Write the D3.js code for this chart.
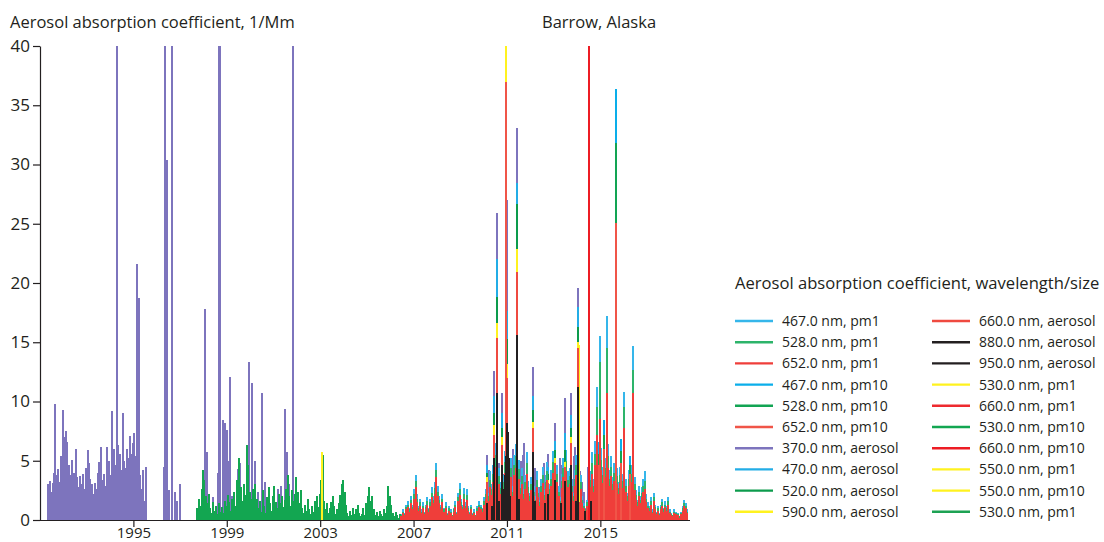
<!DOCTYPE html>
<html>
<head>
<meta charset="utf-8">
<script src="https://cdn.jsdelivr.net/npm/d3@7"></script>
<style>
  body { margin: 0; background: #fff; }
  svg { display: block; }
  text { font-family: "Open Sans", "Noto Sans", sans-serif; fill: #231f20; }
</style>
</head>
<body>
<svg id="chart" width="1104" height="542"></svg>
<script>
// ---- Series (legend order) ----
const seriesNames = [
  "467.0 nm, pm1", "528.0 nm, pm1", "652.0 nm, pm1",
  "467.0 nm, pm10", "528.0 nm, pm10", "652.0 nm, pm10",
  "370.0 nm, aerosol", "470.0 nm, aerosol", "520.0 nm, aerosol", "590.0 nm, aerosol",
  "660.0 nm, aerosol", "880.0 nm, aerosol", "950.0 nm, aerosol",
  "530.0 nm, pm1", "660.0 nm, pm1", "530.0 nm, pm10", "660.0 nm, pm10",
  "550.0 nm, pm1", "550.0 nm, pm10", "530.0 nm, pm1"
];
const seriesColors = [
  "#35b6ea", "#2db46a", "#ef3e3a",
  "#0aaeea", "#12a453", "#f05548",
  "#7d74bd", "#23ade6", "#0c9b4c", "#fff21f",
  "#ef4a40", "#231f20", "#231f20",
  "#fff21f", "#ee2a2f", "#13a651", "#ed1c24",
  "#fff21f", "#fff21f", "#1da253"
];

// ---- Axis ticks ----
const yearTicks = [1995, 1999, 2003, 2007, 2011, 2015];
const valueTicks = [0, 5, 10, 15, 20, 25, 30, 35, 40];

// ---- Regular records: one value every 1/16 year from a start year ----
const STEP = 1 / 16;

// 370 nm aethalometer, early record
const purpleStart = 1991.35;
const purpleRun = [
  3.0, 3.3, 2.4, 3.1, 4.0, 9.8, 3.8, 4.3, 3.2, 5.4,
  9.3, 7.0, 7.5, 6.6, 4.6, 3.8, 5.1, 3.4, 4.0, 6.0,
  3.6, 2.8, 3.7, 3.0, 3.9, 2.6, 4.4, 5.9, 4.8, 3.5,
  3.0, 2.2, 3.1, 2.6, 4.0, 4.9, 6.2, 3.4, 3.9, 2.9,
  6.2, 4.2, 5.0, 3.8, 9.2, 6.0, 4.6, 5.4, 6.3, 5.6,
  4.2, 9.0, 5.0, 4.4, 6.0, 5.2, 7.1, 5.6, 6.5, 7.3,
  5.4, 21.6, 18.7, 3.8, 2.6, 4.2, 1.6, 4.5
];

// 530 nm pm10 record
const greenStart = 1997.73;
const greenRun = [
  1.0, 1.8, 1.2, 2.6, 4.2, 3.4, 2.0, 1.4, 2.2, 1.0,
  0.6, 1.5, 0.8, 1.2, 0.5, 1.4, 0.7, 1.1, 0.6, 1.6,
  1.2, 2.1, 1.5, 0.8, 1.8, 2.4, 1.2, 3.4, 2.2, 5.2,
  2.8, 1.6, 3.0, 2.1, 6.3, 4.6, 2.4, 1.8, 2.6, 1.4,
  3.0, 1.8, 1.0, 1.6, 0.7, 2.5, 1.2, 0.6, 1.9, 2.8,
  1.4, 0.8, 2.0, 2.9, 1.5, 1.0, 2.2, 1.4, 2.0, 1.1,
  1.7, 2.6, 3.8, 2.0, 1.2, 2.5, 1.6, 2.2, 3.6, 2.4,
  1.4, 2.5, 1.0, 0.6, 1.3, 0.8, 1.8, 0.9, 0.5, 1.2,
  0.7, 1.6, 2.0, 1.1, 2.2, 3.4, 2.8, 1.6, 0.9, 1.4,
  0.6, 1.0, 1.5, 2.0, 1.2, 0.5, 0.9, 1.4, 2.1, 3.0,
  3.4, 2.4, 1.3, 0.6, 0.3, 0.8, 0.4, 1.0, 0.5, 0.9,
  1.3, 0.6, 0.3, 0.5, 1.0, 0.4, 1.4, 2.0, 2.8, 1.6,
  2.0, 0.9, 0.4, 0.7, 0.3, 0.8, 0.5, 0.3, 0.9, 0.6,
  1.2, 2.9, 2.0, 1.3, 0.6, 0.3, 0.7, 0.4, 0.2, 0.5,
  0.3
];

// Three-wavelength pm1 record
const lateStart = 2006.47;
const blue467pm1 = [
  0.5, 0.9, 0.6, 1.3, 0.8, 1.6, 1.0, 2.0, 1.3, 2.6,
  3.8, 2.2, 1.2, 1.8, 0.9, 1.5, 0.7, 1.3, 1.9, 1.0,
  1.8, 2.8, 2.0, 3.2, 4.8, 2.9, 2.0, 1.3, 2.2, 1.0,
  0.7, 1.5, 0.6, 1.2, 0.9, 0.4, 1.0, 1.6, 0.7, 2.3,
  3.1, 1.8, 1.3, 2.7, 1.5, 2.6, 1.2, 0.7, 1.3, 0.6,
  0.9, 0.4, 1.2, 1.6, 0.7, 1.3, 1.0, 1.9, 2.6, 3.5,
  2.3, 4.1, 3.0, 4.6, 6.5, 3.6, 2.6, 4.4, 3.2, 4.9,
  3.8, 5.8, 7.5, 4.5, 3.5, 5.2, 2.9, 5.5, 3.9, 6.4,
  4.2, 5.1, 3.2, 4.4, 2.6, 3.8, 5.7, 3.3, 2.3, 3.6,
  5.4, 2.9, 2.0, 4.1, 2.8, 1.7, 3.5, 4.5, 2.5, 3.8,
  4.9, 3.0, 2.2, 4.2, 5.8, 3.6, 2.6, 4.6, 2.9, 1.9,
  3.9, 5.2, 3.2, 5.9, 4.1, 2.8, 4.4, 3.5, 2.3, 4.2,
  5.5, 3.3, 2.2, 3.8, 2.0, 1.4, 1.0, 1.7, 0.9, 2.0,
  4.1, 5.7, 3.5, 6.7, 11.2, 5.5, 15.5, 6.1, 4.5, 7.3,
  5.2, 17.2, 6.4, 4.2, 5.4, 3.6, 4.8, 2.9, 4.4, 3.2,
  4.5, 2.6, 3.9, 10.8, 3.5, 2.3, 4.2, 3.0, 4.6, 14.7,
  3.6, 2.5, 1.7, 2.9, 2.0, 2.8, 3.5, 4.1, 2.2, 1.5,
  1.2, 1.9, 0.9, 2.3, 1.3, 0.7, 1.2, 0.6, 1.3, 1.8,
  1.0, 1.6, 1.2, 1.9, 0.9, 0.6, 0.4, 0.9, 0.7, 0.5,
  0.6, 0.3, 0.7, 1.2, 1.7, 1.4, 0.9
];
const green528pm1 = [
  0.4, 0.7, 0.5, 1.1, 0.6, 1.3, 0.9, 1.7, 1.1, 2.2,
  3.3, 1.8, 1.0, 1.5, 0.7, 1.2, 0.6, 1.1, 1.6, 0.9,
  1.5, 2.3, 1.7, 2.7, 4.2, 2.4, 1.7, 1.1, 1.8, 0.9,
  0.6, 1.2, 0.5, 1.0, 0.7, 0.4, 0.9, 1.3, 0.6, 1.9,
  2.6, 1.5, 1.1, 2.2, 1.2, 2.1, 1.0, 0.6, 1.1, 0.5,
  0.7, 0.4, 1.0, 1.3, 0.6, 1.1, 0.9, 1.6, 2.2, 2.9,
  2.0, 3.4, 2.6, 3.9, 5.5, 3.0, 2.2, 3.7, 2.7, 4.1,
  3.2, 4.9, 6.3, 3.8, 2.9, 4.4, 2.4, 4.6, 3.3, 5.4,
  3.5, 4.3, 2.7, 3.7, 2.2, 3.2, 4.8, 2.8, 2.0, 3.0,
  4.5, 2.4, 1.7, 3.4, 2.3, 1.5, 2.9, 3.8, 2.1, 3.2,
  4.1, 2.6, 1.8, 3.5, 4.9, 3.0, 2.2, 3.9, 2.4, 1.6,
  3.3, 4.4, 2.7, 5.0, 3.4, 2.3, 3.7, 2.9, 2.0, 3.5,
  4.6, 2.8, 1.8, 3.2, 1.7, 1.2, 0.9, 1.5, 0.7, 1.7,
  3.4, 4.8, 2.9, 5.6, 9.5, 4.6, 13.3, 5.1, 3.8, 6.1,
  4.4, 14.5, 5.4, 3.5, 4.5, 3.0, 4.0, 2.4, 3.7, 2.7,
  3.8, 2.2, 3.3, 9.5, 2.9, 2.0, 3.5, 2.6, 3.9, 12.7,
  3.0, 2.1, 1.5, 2.4, 1.7, 2.3, 2.9, 3.3, 1.8, 1.2,
  1.0, 1.6, 0.7, 1.9, 1.1, 0.6, 1.0, 0.5, 1.1, 1.5,
  0.9, 1.3, 1.0, 1.6, 0.7, 0.5, 0.4, 0.7, 0.6, 0.4,
  0.5, 0.3, 0.6, 1.0, 1.4, 1.2, 0.7
];
const red652pm1 = [
  0.3, 0.6, 0.4, 0.9, 0.5, 1.1, 0.7, 1.4, 0.9, 1.8,
  2.8, 1.5, 0.8, 1.2, 0.6, 1.0, 0.5, 0.9, 1.3, 0.7,
  1.2, 1.9, 1.4, 2.2, 3.6, 2.0, 1.4, 0.9, 1.5, 0.7,
  0.5, 1.0, 0.4, 0.8, 0.6, 0.3, 0.7, 1.1, 0.5, 1.6,
  2.1, 1.2, 0.9, 1.8, 1.0, 1.7, 0.8, 0.5, 0.9, 0.4,
  0.6, 0.3, 0.8, 1.1, 0.5, 0.9, 0.7, 1.3, 1.8, 2.4,
  1.6, 2.8, 2.1, 3.2, 4.5, 2.5, 1.8, 3.0, 2.2, 3.4,
  2.6, 4.0, 5.2, 3.1, 2.4, 3.6, 2.0, 3.8, 2.7, 4.4,
  2.9, 3.5, 2.2, 3.0, 1.8, 2.6, 3.9, 2.3, 1.6, 2.5,
  3.7, 2.0, 1.4, 2.8, 1.9, 1.2, 2.4, 3.1, 1.7, 2.6,
  3.4, 2.1, 1.5, 2.9, 4.0, 2.5, 1.8, 3.2, 2.0, 1.3,
  2.7, 3.6, 2.2, 4.1, 2.8, 1.9, 3.0, 2.4, 1.6, 2.9,
  3.8, 2.3, 1.5, 2.6, 1.4, 1.0, 0.7, 1.2, 0.6, 1.4,
  2.8, 3.9, 2.4, 4.6, 7.2, 3.8, 8.5, 4.2, 3.1, 5.0,
  3.6, 10.7, 4.4, 2.9, 3.7, 2.5, 3.3, 2.0, 3.0, 2.2,
  3.1, 1.8, 2.7, 7.8, 2.4, 1.6, 2.9, 2.1, 3.2, 10.7,
  2.5, 1.7, 1.2, 2.0, 1.4, 1.9, 2.4, 2.6, 1.5, 1.0,
  0.8, 1.3, 0.6, 1.6, 0.9, 0.5, 0.8, 0.4, 0.9, 1.2,
  0.7, 1.1, 0.8, 1.3, 0.6, 0.4, 0.3, 0.6, 0.5, 0.3,
  0.4, 0.2, 0.5, 0.8, 1.2, 1.0, 0.6
];

// ---- Individual observations: [decimal year, value] ----
const aeth370 = [
  [1994.30, 55], [1996.29, 4.5], [1996.36, 46], [1996.44, 30.4], [1996.53, 2.5],
  [1996.66, 44], [1996.79, 2.4], [1996.87, 1.6], [1997.00, 3.0],
  [1998.05, 17.8], [1998.14, 5.7], [1998.39, 1.9], [1998.61, 4.0], [1998.67, 46],
  [1998.73, 48], [1998.82, 8.4], [1998.88, 7.9], [1998.94, 8.2], [1999.00, 7.6],
  [1999.06, 5.0], [1999.12, 12.1], [1999.24, 2.0], [1999.47, 4.3], [1999.57, 4.8],
  [1999.74, 3.0], [1999.97, 13.3], [2000.09, 11.6], [2000.21, 5.0], [2000.34, 2.4],
  [2000.50, 10.7], [2000.64, 3.2], [2000.80, 2.5], [2000.98, 1.6], [2001.20, 2.6],
  [2001.33, 2.9], [2001.50, 9.4], [2001.58, 5.7], [2001.67, 3.0], [2001.85, 44],
  [2010.13, 5.5], [2010.22, 4.2], [2010.43, 12.6], [2010.50, 3.6], [2010.56, 25.9],
  [2010.66, 4.8], [2010.79, 10.7], [2010.88, 3.9], [2011.01, 27.0], [2011.10, 5.2],
  [2011.18, 4.4], [2011.27, 6.0], [2011.34, 4.6], [2011.43, 33.1], [2011.55, 3.8],
  [2011.62, 5.0], [2011.69, 5.5], [2011.74, 6.5], [2011.90, 3.2], [2012.10, 12.9],
  [2012.18, 4.4], [2012.42, 2.8], [2012.50, 3.0], [2012.60, 4.8], [2012.76, 5.6],
  [2012.88, 4.0], [2013.06, 8.2], [2013.16, 3.6], [2013.28, 5.2], [2013.36, 4.6],
  [2013.49, 10.3], [2013.60, 3.9], [2013.75, 10.7], [2013.86, 5.4], [2013.93, 6.2],
  [2014.05, 19.6], [2014.13, 4.1], [2014.22, 3.2], [2014.30, 2.4], [2014.47, 4.5]
];
const aeth470 = [
  [2010.13, 4.6], [2010.43, 10.5], [2010.56, 22.0], [2010.79, 9.0], [2011.01, 17.6],
  [2011.43, 28.4], [2012.10, 10.5], [2012.76, 4.5], [2013.06, 6.7], [2013.49, 7.3],
  [2013.75, 8.9], [2014.05, 18.0]
];
const aeth520 = [
  [2010.13, 4.0], [2010.43, 9.0], [2010.56, 18.8], [2010.79, 7.8], [2011.01, 15.3],
  [2011.43, 26.7], [2012.10, 9.3], [2012.76, 3.9], [2013.06, 5.9], [2013.49, 5.9],
  [2013.75, 7.8], [2014.05, 16.3]
];
const aeth590 = [
  [2010.13, 3.6], [2010.43, 8.0], [2010.56, 16.6], [2010.79, 7.0], [2011.01, 13.2],
  [2011.43, 22.9], [2012.10, 8.3], [2012.76, 3.4], [2013.06, 5.2], [2013.49, 4.9],
  [2013.75, 7.0], [2014.05, 15.0]
];
const aeth660 = [
  [2010.13, 3.2], [2010.43, 7.2], [2010.56, 15.4], [2010.79, 6.3], [2011.01, 12.0],
  [2011.43, 20.9], [2012.10, 7.8], [2012.76, 3.1], [2013.06, 4.8], [2013.49, 4.5],
  [2013.75, 6.5], [2014.05, 14.5]
];
const aeth880 = [
  [2010.13, 1.4], [2010.35, 1.2], [2010.43, 5.2], [2010.56, 10.7],
  [2010.68, 1.6], [2010.79, 4.6], [2010.86, 2.6], [2010.92, 3.8], [2010.96, 5.4],
  [2011.01, 8.2], [2011.04, 7.4], [2011.07, 5.2], [2011.10, 3.4], [2011.14, 2.0],
  [2011.43, 15.6], [2011.52, 1.8], [2012.10, 5.7], [2012.22, 1.6],
  [2012.65, 1.4], [2012.76, 2.2], [2013.06, 3.4], [2013.30, 1.4], [2013.49, 3.3],
  [2013.75, 4.6], [2013.95, 1.6], [2014.05, 11.2], [2014.35, 0.8],
  [2014.62, 1.6]
];
const aeth950 = [
  [2010.13, 1.3], [2010.43, 4.8], [2010.56, 10.0], [2010.79, 4.2], [2010.98, 5.0],
  [2011.01, 7.6], [2011.05, 6.2], [2011.43, 14.6], [2012.10, 5.2], [2012.76, 2.0],
  [2013.06, 3.1], [2013.49, 3.0], [2013.75, 4.2], [2014.05, 10.4]
];
const pm10_467 = [
  [2014.95, 6.6], [2015.15, 8.4], [2015.65, 36.4], [2015.90, 6.8], [2016.25, 5.4]
];
const pm10_528 = [
  [2014.95, 5.6], [2015.15, 7.2], [2015.65, 31.8], [2015.90, 5.8], [2016.25, 4.6]
];
const pm10_652 = [
  [2010.965, 37], [2014.95, 4.6], [2015.15, 6.0], [2015.65, 25.1], [2015.90, 4.8],
  [2016.25, 3.9]
];
const yellow530pm1 = [[2011.45, 21.8], [2014.07, 14.8]];
const red660pm1 = [[2014.50, 50]];
const red660pm10 = [[2014.51, 52]];
const yellow550pm1 = [[2010.95, 47]];
const yellow550pm10 = [[2003.06, 5.7]];
const green530pm1 = [[2003.03, 3.0], [2003.10, 5.5]];

// ---- Assemble ----
const regular = (start, values) => values.map((v, i) => [start + i * STEP, v]);
const seriesData = [
  regular(lateStart, blue467pm1),
  regular(lateStart, green528pm1),
  regular(lateStart, red652pm1),
  pm10_467, pm10_528, pm10_652,
  regular(purpleStart, purpleRun).concat(aeth370),
  aeth470, aeth520, aeth590, aeth660, aeth880, aeth950,
  yellow530pm1, red660pm1,
  regular(greenStart, greenRun),
  red660pm10, yellow550pm1, yellow550pm10, green530pm1
];

// ---- Layout ----
const svg = d3.select("#chart");
const plot = { left: 40, right: 690, top: 46, bottom: 520 };

const x = d3.scaleLinear().domain([1991.0, 2018.84]).range([plot.left, plot.right]);
const y = d3.scaleLinear().domain([0, 40]).range([plot.bottom, plot.top]);

svg.append("defs").append("clipPath").attr("id", "plot-clip")
  .append("rect")
  .attr("x", plot.left).attr("y", plot.top)
  .attr("width", plot.right - plot.left).attr("height", plot.bottom - plot.top);

// Shorter wavelengths first, so longer wavelengths sit in front of them
const drawOrder = d3.range(seriesNames.length)
  .sort((a, b) => parseFloat(seriesNames[a]) - parseFloat(seriesNames[b]) || a - b);

// Bars are snapped to whole pixels so overlapping wavelengths keep clean colour bands
const bars = svg.append("g").attr("clip-path", "url(#plot-clip)")
  .attr("shape-rendering", "crispEdges");
const barWidth = 2;
drawOrder.forEach(s => {
  bars.append("g")
    .attr("fill", seriesColors[s])
    .selectAll("rect")
    .data(seriesData[s])
    .join("rect")
    .attr("x", d => Math.round(x(d[0]) - barWidth / 2))
    .attr("width", barWidth)
    .attr("y", d => Math.round(y(Math.min(d[1], 40.5))))
    .attr("height", d => y(0) - Math.round(y(Math.min(d[1], 40.5))));
});

// ---- Axes ----
const yAxis = svg.append("g")
  .attr("transform", `translate(${plot.left},0)`)
  .call(d3.axisLeft(y).tickValues(valueTicks).tickSize(7).tickSizeOuter(0).tickPadding(3));
const xAxis = svg.append("g")
  .attr("transform", `translate(0,${plot.bottom})`)
  .call(d3.axisBottom(x).tickValues(yearTicks).tickFormat(d3.format("d"))
    .tickSize(7).tickSizeOuter(0));
[yAxis, xAxis].forEach(a => {
  a.selectAll("path, line").attr("stroke", "#231f20").attr("stroke-width", 1.2);
  a.selectAll("text").attr("fill", "#231f20")
    .style("font-family", '"Open Sans", sans-serif');
});
yAxis.selectAll("text").attr("font-size", 17);
xAxis.selectAll("text").attr("font-size", 15).attr("y", 18).attr("dy", 0);
xAxis.select(".domain").attr("d", `M${plot.left},0.5H${plot.right}`);

// ---- Titles ----
svg.append("text").attr("x", 10).attr("y", 28).attr("font-size", 16.5)
  .text("Aerosol absorption coefficient, 1/Mm");
svg.append("text").attr("x", 542).attr("y", 28).attr("font-size", 16.5)
  .text("Barrow, Alaska");

// ---- Legend ----
const legend = svg.append("g");
legend.append("text").attr("x", 735).attr("y", 289).attr("font-size", 16.6)
  .text("Aerosol absorption coefficient, wavelength/size");
const rowsPerColumn = 10;
const columnX = [735, 932];
const rowY0 = 321, rowStep = 21.2;
seriesNames.forEach((name, i) => {
  const cx = columnX[Math.floor(i / rowsPerColumn)];
  const cy = rowY0 + (i % rowsPerColumn) * rowStep;
  legend.append("line")
    .attr("x1", cx).attr("x2", cx + 38).attr("y1", cy).attr("y2", cy)
    .attr("stroke", seriesColors[i]).attr("stroke-width", 2.4);
  legend.append("text")
    .attr("x", cx + 47).attr("y", cy).attr("dy", "0.35em")
    .attr("font-size", 14).text(name);
});
</script>
</body>
</html>
